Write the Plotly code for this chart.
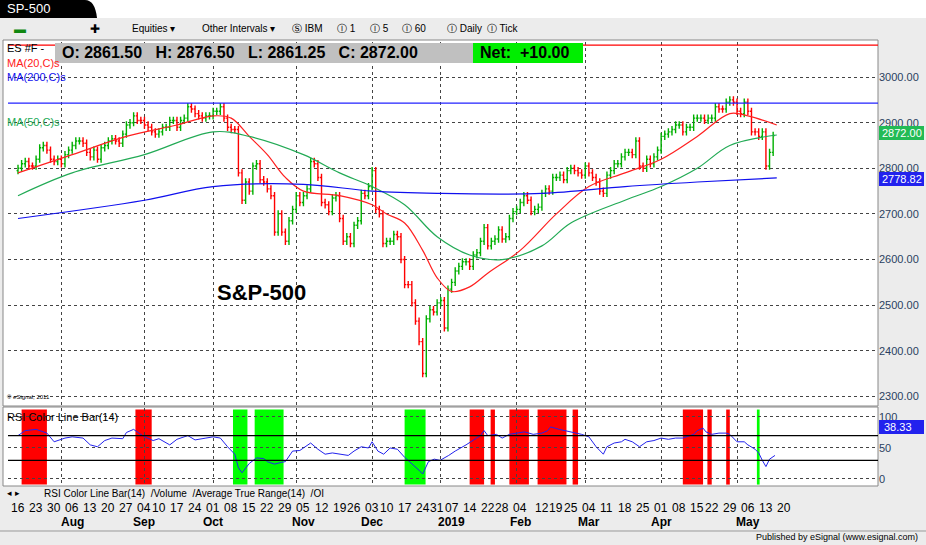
import plotly.graph_objects as go
from plotly.subplots import make_subplots

W, H = 926, 545

# week start labels, month under each, and daily closes for that week
week_labels = ["16", "23", "30", "06", "13", "20", "27", "04", "10", "17", "24", "01", "08", "15", "22", "29",
               "05", "12", "19", "26", "03", "10", "17", "24", "31", "07", "14", "22", "28", "04", "12", "19",
               "25", "04", "11", "18", "25", "01", "08", "15", "22", "29", "06", "13"]
week_closes = [
    [2800, 2810, 2815, 2805, 2805], [2820, 2845, 2850, 2840, 2820], [2815, 2820, 2810, 2830, 2840],
    [2850, 2860, 2860, 2855, 2835], [2825, 2840, 2820, 2845, 2850], [2860, 2865, 2860, 2855, 2875],
    [2895, 2900, 2915, 2905, 2905], [2895, 2890, 2880, 2875], [2880, 2890, 2890, 2905, 2905],
    [2890, 2905, 2910, 2935, 2930], [2920, 2915, 2910, 2915, 2915], [2925, 2925, 2935, 2910, 2890],
    [2885, 2885, 2790, 2730, 2770], [2750, 2805, 2810, 2775, 2770], [2755, 2740, 2660, 2700, 2660],
    [2640, 2685, 2710, 2740, 2725], [2740, 2755, 2815, 2810, 2780], [2725, 2720, 2705, 2735, 2740],
    [2690, 2640, 2650, 2635], [2675, 2685, 2745, 2740, 2760], [2795, 2710, 2700, 2635],
    [2640, 2640, 2655, 2650, 2600], [2545, 2545, 2505, 2465, 2420], [2350, 2470, 2490, 2485],
    [2505, 2510, 2450, 2535], [2550, 2575, 2585, 2595, 2595], [2585, 2610, 2615, 2640, 2670],
    [2630, 2640, 2645, 2665], [2645, 2650, 2690, 2705, 2710], [2725, 2740, 2730, 2705, 2710, 2715],
    [2745, 2755, 2750, 2780], [2780, 2785, 2775, 2795], [2800, 2795, 2790, 2785, 2805],
    [2790, 2780, 2770, 2750, 2745], [2785, 2795, 2810, 2810, 2825], [2835, 2835, 2830, 2860, 2805],
    [2800, 2820, 2810, 2825, 2840], [2870, 2875, 2880, 2885, 2895], [2895, 2880, 2890, 2890, 2910],
    [2910, 2910, 2905, 2910], [2910, 2935, 2930, 2930, 2945], [2950, 2945, 2925, 2920, 2945],
    [2925, 2880, 2880, 2870, 2880], [2805, 2835, 2872],
]
month_labels = ["Aug", "Sep", "Oct", "Nov", "Dec", "2019", "Feb", "Mar", "Apr", "May"]
month_weeks = [3, 7, 11, 16, 20, 25, 29, 33, 37, 42]
month_starts = [2.4, 7, 11, 15.6, 20, 24.2, 28.8, 32.8, 37, 41.4]

# moving averages read at (week, value)
ma20_wk = [0, 3, 6, 9, 11, 12, 13, 14, 15, 16, 18, 20, 21, 22, 23, 24, 25, 26, 27, 29, 31, 33, 35, 37, 39, 41, 42, 43.6]
ma20_v = [2790, 2830, 2870, 2895, 2915, 2910, 2870, 2830, 2780, 2750, 2740, 2720, 2700, 2680, 2620, 2560, 2530, 2540,
          2570, 2620, 2700, 2760, 2790, 2820, 2870, 2920, 2915, 2895]
ma50_wk = [0, 3, 7, 11, 13, 16, 18, 20, 22, 24, 26, 28, 30, 32, 35, 37, 39, 41, 43.6]
ma50_v = [2740, 2790, 2830, 2880, 2870, 2830, 2790, 2760, 2720, 2650, 2610, 2600, 2630, 2680, 2730, 2760, 2800, 2850, 2873]
ma200_wk = [0, 7, 11, 16, 20, 24, 30, 35, 39, 43.6]
ma200_v = [2690, 2730, 2760, 2765, 2750, 2745, 2745, 2760, 2770, 2779]

# RSI(14) read at (week, value)
rsi_wk = [0, 0.4, 1, 1.6, 2, 2.6, 3, 3.6, 4, 4.4, 4.8, 5.2, 5.8, 6, 6.4, 7, 7.6, 8, 8.6, 9, 9.6, 10, 10.6, 11, 11.4,
          11.8, 12.2, 12.4, 12.6, 13, 13.4, 13.8, 14, 14.4, 14.8, 15, 15.4, 15.8, 16, 16.4, 16.8, 17.2, 17.6, 18, 18.6,
          19, 19.4, 19.8, 20, 20.4, 20.8, 21.2, 21.6, 22, 22.4, 22.8, 23, 23.4, 23.8, 24.2, 24.8, 25.2, 25.8, 26.2,
          26.6, 26.8, 27, 27.6, 28, 28.4, 28.8, 29.2, 29.6, 30, 30.4, 30.6, 31.2, 31.6, 32, 32.6, 33, 33.4, 33.8, 34,
          34.4, 34.8, 35, 35.4, 35.8, 36.2, 36.6, 37, 37.4, 37.8, 38.2, 38.8, 39, 39.4, 39.6, 40, 40.4, 40.8, 41,
          41.4, 41.8, 42, 42.4, 42.6, 42.8, 43, 43.2, 43.5]
rsi_v = [70, 78, 80, 74, 60, 66, 68, 66, 55, 52, 62, 66, 65, 75, 80, 68, 62, 65, 55, 64, 70, 63, 66, 68, 66,
         52, 40, 18, 10, 25, 34, 33, 28, 24, 27, 28, 45, 46, 50, 58, 48, 40, 42, 40, 38,
         45, 52, 50, 60, 45, 40, 50, 48, 35, 25, 14, 8, 28, 32, 30, 38, 45, 55, 62,
         70, 78, 70, 72, 66, 72, 74, 76, 72, 74, 78, 84, 80, 78, 76, 72, 68, 52, 40, 52,
         58, 60, 64, 60, 52, 60, 62, 66, 64, 66, 66, 72, 78, 82, 76, 72, 74, 74, 72,
         60, 60, 55, 48, 42, 30, 20, 32, 38]
red_zones = [(0.2, 1.6), (6.5, 7.5), (26.0, 26.8), (27.2, 27.5), (28.4, 29.4), (29.8, 31.7), (32.1, 32.4),
             (38.2, 39.4), (39.7, 40.0), (40.8, 41.0)]
green_zones = [(12.1, 12.9), (13.3, 14.9), (22.0, 23.2), (42.5, 42.65)]

# flatten to trading-day index
closes, week_start = [], []
for wc in week_closes:
    week_start.append(len(closes))
    closes.extend(wc)
n = len(closes)
week_start.append(n + 2)
week_labels = week_labels + ["20"]
opens = [closes[0] - 5] + closes[:-1]
highs = [max(o, c) + 8 for o, c in zip(opens, closes)]
lows = [min(o, c) - 8 for o, c in zip(opens, closes)]
idx = list(range(n))


def wpos(w):
    i = int(w)
    a = week_start[i]
    b = week_start[i + 1] if i + 1 < len(week_start) else a + 5
    return a + (w - i) * (b - a)


px_bar = (784 - 18) / week_start[-1]
x_rng = [-(18 - 8) / px_bar, week_start[-1] + (878 - 784) / px_bar]
grid_x = [wpos(m) for m in month_starts]


def py(top, bot):
    return [1 - bot / H, 1 - top / H]


fig = make_subplots(rows=2, cols=1)
fig.add_trace(go.Ohlc(x=idx, open=opens, high=highs, low=lows, close=closes,
                      increasing=dict(line=dict(color="#00b000", width=1.4)),
                      decreasing=dict(line=dict(color="#ff0000", width=1.4)),
                      tickwidth=0.4, showlegend=False), 1, 1)
for wk, vals, col in [(ma20_wk, ma20_v, "#ff2020"), (ma50_wk, ma50_v, "#22aa55"), (ma200_wk, ma200_v, "#1010ee")]:
    fig.add_trace(go.Scatter(x=[wpos(w) for w in wk], y=vals, mode="lines", line=dict(color=col, width=1.2),
                             line_shape="spline", showlegend=False), 1, 1)
fig.add_trace(go.Scatter(x=[wpos(w) for w in rsi_wk], y=rsi_v, mode="lines", line=dict(color="#2222ee", width=1),
                         showlegend=False), 2, 1)

shapes = []
for zones, col in [(red_zones, "#ff0000"), (green_zones, "#00ff00")]:
    for a, b in zones:
        shapes.append(dict(type="rect", xref="x2", yref="y2", x0=wpos(a), x1=wpos(b), y0=-9, y1=112,
                           fillcolor=col, line_width=0, layer="below"))
for lv in [70, 30]:
    shapes.append(dict(type="line", xref="x2", yref="y2", x0=x_rng[0], x1=x_rng[1], y0=lv, y1=lv,
                       line=dict(color="black", width=1.2)))
shapes.append(dict(type="line", xref="x", yref="y", x0=x_rng[0], x1=x_rng[1], y0=2943, y1=2943,
                   line=dict(color="#2222ff", width=1.2)))
shapes.append(dict(type="line", xref="x", yref="y", x0=x_rng[0], x1=x_rng[1], y0=3070, y1=3070,
                   line=dict(color="#ff0000", width=1.2)))
# window chrome
shapes += [
    dict(type="rect", xref="paper", yref="paper", x0=0, x1=1, y0=0, y1=1, fillcolor="#ececec", line_width=0, layer="below"),
    dict(type="rect", xref="paper", yref="paper", x0=0, x1=1, y0=py(0, 18)[0], y1=1, fillcolor="white", line_width=0, layer="below"),
    dict(type="path", xref="paper", yref="paper",
         path=f"M0,1 L{85/W},1 Q{95/W},1 {97/W},{1-18/H} L0,{1-18/H} Z", fillcolor="black", line_width=0, layer="below"),
    dict(type="rect", xref="paper", yref="paper", x0=3 / W, x1=878 / W, y0=py(40, 406)[0], y1=py(40, 406)[1],
         fillcolor="white", line=dict(color="#888", width=1), layer="below"),
    dict(type="rect", xref="paper", yref="paper", x0=3 / W, x1=878 / W, y0=py(407, 486)[0], y1=py(407, 486)[1],
         fillcolor="white", line=dict(color="#888", width=1), layer="below"),
    dict(type="rect", xref="paper", yref="paper", x0=55 / W, x1=583 / W, y0=py(43, 63)[0], y1=py(43, 63)[1],
         fillcolor="#c0c0c0", line_width=0),
    dict(type="rect", xref="paper", yref="paper", x0=473 / W, x1=583 / W, y0=py(43, 63)[0], y1=py(43, 63)[1],
         fillcolor="#00ee00", line_width=0),
    dict(type="rect", xref="paper", yref="paper", x0=879 / W, x1=924 / W, y0=py(126, 140)[0], y1=py(126, 140)[1],
         fillcolor="#22bb55", line_width=0),
    dict(type="rect", xref="paper", yref="paper", x0=879 / W, x1=924 / W, y0=py(172, 186)[0], y1=py(172, 186)[1],
         fillcolor="#2222ee", line_width=0),
    dict(type="rect", xref="paper", yref="paper", x0=879 / W, x1=924 / W, y0=py(420, 434)[0], y1=py(420, 434)[1],
         fillcolor="#2222ee", line_width=0),
    dict(type="line", xref="paper", yref="paper", x0=0, x1=1, y0=py(0, 531)[0], y1=py(0, 531)[0],
         line=dict(color="#999", width=1)),
]

ann = []


def txt(x, y, s, size=11, color="black", bold=False, anchor="left", xref="paper", font="Liberation Sans"):
    ann.append(dict(x=x if xref != "paper" else x / W, y=1 - y / H, xref=xref, yref="paper", text=f"<b>{s}</b>" if bold else s,
                    showarrow=False, xanchor=anchor, yanchor="middle", font=dict(size=size, color=color, family=font)))


txt(5, 9, "SP-500", 13, "white")
txt(12, 29, "▬", 12, "#118811")
txt(88, 29, "✚", 12)
txt(130, 29, "Equities ▾", 10)
txt(200, 29, "Other Intervals ▾", 10)
for xx, s in [(290, "Ⓢ IBM"), (335, "Ⓘ 1"), (368, "Ⓘ 5"), (400, "Ⓘ 60"), (445, "Ⓘ Daily"), (485, "Ⓘ Tick")]:
    txt(xx, 29, s, 10)
txt(5, 48, "ES #F -", 11)
txt(60, 53, "O: 2861.50   H: 2876.50   L: 2861.25   C: 2872.00", 16, bold=True)
txt(478, 53, "Net:  +10.00", 16, bold=True)
txt(5, 63, "MA(20,C)s", 11, "#ff2020")
txt(5, 77, "MA(200,C)s", 11, "#1010ee")
txt(5, 122, "MA(50,C)s", 11, "#22aa55")
txt(215, 292, "S&P-500", 22, bold=True)
txt(5, 397, "© eSignal, 2011", 6)
txt(880, 133, "2872.00", 11, "white")
txt(880, 179, "2778.82", 11, "white")
txt(882, 427, "38.33", 11, "white")
txt(5, 417, "RSI Color Line Bar(14)", 11)
txt(5, 493, "◂ ▸", 9)
txt(42, 493, "RSI Color Line Bar(14)  /Volume  /Average True Range(14)  /OI", 10)
txt(920, 537, "Published by eSignal (www.esignal.com)", 9, anchor="right")
for i, s in enumerate(week_labels):
    txt(week_start[i], 508, s, 12, xref="x2", anchor="center")
for m, w in zip(month_labels, month_weeks):
    txt(week_start[w], 522, m, 12, bold=True, xref="x2", anchor="center")

grid = dict(showgrid=True, gridcolor="#444", griddash="dot", gridwidth=1)
fig.update_layout(
    width=W, height=H, margin=dict(l=0, r=0, t=0, b=0), paper_bgcolor="#ececec", plot_bgcolor="rgba(0,0,0,0)",
    shapes=shapes, annotations=ann, showlegend=False,
    xaxis=dict(domain=[8 / W, 878 / W], range=x_rng, tickvals=grid_x, showticklabels=False,
               rangeslider=dict(visible=False), zeroline=False, **grid),
    xaxis2=dict(domain=[8 / W, 878 / W], range=x_rng, tickvals=grid_x, showticklabels=False, zeroline=False, **grid),
    yaxis=dict(domain=py(42, 405), range=[2281, 3077], side="right", tickvals=list(range(2300, 3001, 100)),
               ticktext=[f"{v}.00" for v in range(2300, 3001, 100)], tickfont=dict(size=11, family="Liberation Sans"),
               zeroline=False, **grid),
    yaxis2=dict(domain=py(408, 485), range=[-9.7, 114.5], side="right", tickvals=[0, 50, 100],
                tickfont=dict(size=11, family="Liberation Sans"), zeroline=False, **grid),
)
fig.write_html("out.html", config={"displayModeBar": False},
               post_script="document.body.style.margin='0';document.body.style.overflow='hidden';")
